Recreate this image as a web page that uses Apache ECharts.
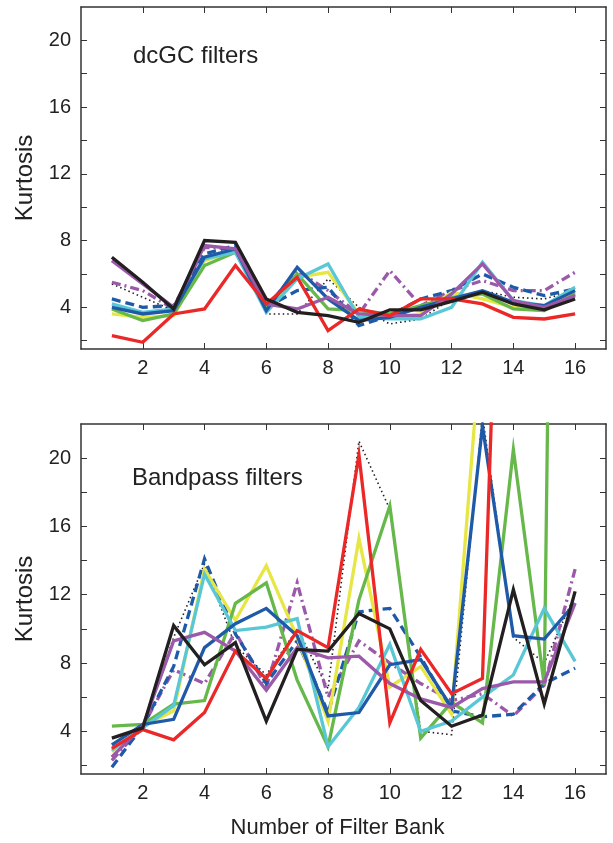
<!DOCTYPE html>
<html>
<head>
<meta charset="utf-8">
<script src="https://cdn.jsdelivr.net/npm/echarts@6/dist/echarts.min.js"></script>
<style>
html, body { margin: 0; padding: 0; background: #fff; }
#main { width: 613px; height: 843px; }
</style>
</head>
<body>
<div id="main"></div>
<script>
// filter bank numbers and axis ticks
var banks = [1, 2, 3, 4, 5, 6, 7, 8, 9, 10, 11, 12, 13, 14, 15, 16];
var xTicks = [2, 4, 6, 8, 10, 12, 14, 16];
var yTicks = [2, 4, 6, 8, 10, 12, 14, 16, 18, 20];
var yLabels = [4, 8, 12, 16, 20];

// dcGC filters (top panel)
var dcRed      = [2.3, 1.9, 3.6, 3.9, 6.5, 4.2, 5.8, 2.6, 3.9, 3.5, 4.5, 4.5, 4.2, 3.4, 3.3, 3.6];
var dcBlack    = [7.0, 5.5, 3.9, 8.0, 7.9, 4.5, 3.7, 3.5, 3.1, 3.85, 3.85, 4.35, 4.9, 4.2, 3.85, 4.5];
var dcPurple   = [6.8, 5.4, 4.0, 7.7, 7.5, 4.2, 3.9, 4.6, 3.6, 3.5, 3.5, 4.8, 6.6, 4.4, 4.0, 4.7];
var dcBlue     = [4.0, 3.6, 3.8, 7.0, 7.5, 3.8, 6.4, 4.5, 3.2, 3.4, 4.0, 4.5, 5.0, 4.3, 4.1, 5.0];
var dcCyan     = [4.2, 3.7, 3.9, 6.9, 7.3, 3.7, 5.7, 6.6, 3.4, 3.3, 3.3, 4.0, 6.7, 4.4, 4.1, 5.2];
var dcGreen    = [3.9, 3.2, 3.6, 6.5, 7.3, 4.0, 6.0, 3.9, 3.8, 3.6, 4.1, 4.6, 4.8, 3.9, 3.8, 4.8];
var dcYellow   = [3.6, 3.4, 3.5, 6.8, 7.4, 4.0, 5.8, 6.1, 3.6, 3.4, 3.6, 4.9, 4.5, 4.0, 3.9, 4.9];
var dcBlueDash = [4.5, 4.0, 4.1, 7.2, 7.7, 4.0, 5.0, 5.2, 2.9, 3.5, 4.5, 5.0, 6.0, 5.2, 4.7, 5.1];
var dcPurpleDD = [5.5, 5.0, 3.9, 7.6, 7.5, 4.0, 6.2, 5.0, 3.6, 6.2, 4.1, 5.0, 5.6, 5.0, 5.0, 6.1];
var dcDotted   = [5.4, 4.6, 3.8, 7.0, 7.4, 3.6, 3.6, 5.7, 4.0, 3.0, 3.3, 4.5, 5.0, 4.6, 4.5, 5.0];

// Bandpass filters (bottom panel)
var bpRed      = [3.0, 4.1, 3.5, 5.1, 8.7, 7.1, 9.9, 8.9, 20.2, 4.5, 8.8, 6.2, 7.1, 60, null, null];
var bpBlack    = [3.6, 4.2, 10.2, 7.9, 9.2, 4.6, 8.8, 8.7, 10.9, 10.0, 5.8, 4.3, 4.95, 12.3, 5.6, 12.2];
var bpPurple   = [2.5, 4.3, 9.3, 9.8, 8.7, 6.4, 8.9, 8.3, 8.4, 6.8, 5.9, 5.4, 6.5, 6.9, 6.9, 11.5];
var bpBlue     = [3.2, 4.4, 4.7, 8.9, 10.3, 11.2, 9.6, 4.9, 5.1, 7.9, 8.2, 5.4, 21.9, 9.6, 9.4, 11.5];
var bpCyan     = [2.9, 4.2, 5.5, 13.2, 9.9, 10.1, 10.6, 3.1, 5.4, 9.1, 4.0, 4.6, 6.0, 7.3, 11.2, 8.1];
var bpGreen    = [4.3, 4.4, 5.6, 5.8, 11.5, 12.7, 7.0, 3.1, 11.7, 17.2, 3.6, 5.7, 4.5, 20.5, 6.7, 150];
var bpYellow   = [2.8, 4.3, 5.2, 13.5, 10.5, 13.7, 9.5, 4.6, 15.3, 6.6, 7.8, 5.0, 28, null, null, null];
var bpBlueDash = [1.9, 4.3, 7.8, 14.1, 9.7, 6.8, 9.3, 5.1, 11.0, 11.2, 8.35, 5.2, 4.85, 5.0, 6.8, 7.7];
var bpPurpleDD = [2.3, 4.3, 7.6, 6.8, 9.8, 6.6, 12.7, 6.0, 9.3, 8.0, 6.8, 5.8, 6.2, 4.9, 6.7, 13.5];
var bpDotted   = [2.5, 4.3, 9.5, 13.8, 9.0, 7.3, 10.0, 6.5, 21.0, 17.0, 4.0, 3.8, 22.5, 9.5, 8.0, 12.0];

var font = 'Liberation Sans, Arial, Helvetica, sans-serif';
var axisColor = '#333';

// line styles, drawn in this order
var styles = [
    { key: 'Dotted',   color: '#231f20', type: [1.5, 3], width: 1.6 },
    { key: 'PurpleDD', color: '#9b59a9', type: [9, 4, 2, 4], width: 3.3 },
    { key: 'BlueDash', color: '#1f5aa8', type: [9, 5], width: 3.3 },
    { key: 'Yellow',   color: '#e6e645', type: 'solid', width: 3.3 },
    { key: 'Green',    color: '#67b84a', type: 'solid', width: 3.3 },
    { key: 'Cyan',     color: '#5ac7d6', type: 'solid', width: 3.3 },
    { key: 'Blue',     color: '#1f5aa8', type: 'solid', width: 3.3 },
    { key: 'Purple',   color: '#9b59a9', type: 'solid', width: 3.3 },
    { key: 'Red',      color: '#ec2727', type: 'solid', width: 3.3 },
    { key: 'Black',    color: '#231f20', type: 'solid', width: 3.3 }
];
var panels = {
    dc: { Red: dcRed, Black: dcBlack, Purple: dcPurple, Blue: dcBlue, Cyan: dcCyan, Green: dcGreen,
          Yellow: dcYellow, BlueDash: dcBlueDash, PurpleDD: dcPurpleDD, Dotted: dcDotted },
    bp: { Red: bpRed, Black: bpBlack, Purple: bpPurple, Blue: bpBlue, Cyan: bpCyan, Green: bpGreen,
          Yellow: bpYellow, BlueDash: bpBlueDash, PurpleDD: bpPurpleDD, Dotted: bpDotted }
};

function pairs(vals) {
    var out = [];
    for (var i = 0; i < banks.length; i++) out.push([banks[i], vals[i]]);
    return out;
}

var series = [];
['dc', 'bp'].forEach(function (p, g) {
    styles.forEach(function (s) {
        series.push({
            type: 'line',
            xAxisIndex: g * 2,
            yAxisIndex: g * 2,
            data: pairs(panels[p][s.key]),
            showSymbol: false,
            symbol: 'none',
            clip: true,
            connectNulls: false,
            lineStyle: { color: s.color, width: s.width, type: s.type, cap: 'butt', join: 'miter' },
            silent: true,
            animation: false
        });
    });
});

function xAxis(grid, pos, labels, name) {
    return {
        type: 'value', gridIndex: grid, position: pos, min: 0, max: 17,
        name: name || '', nameLocation: 'middle', nameGap: 43,
        nameTextStyle: { fontFamily: font, fontSize: 22, color: '#222', padding: [0, 12, 0, 0] },
        axisLine: { show: true, onZero: false, lineStyle: { color: axisColor, width: 1.5 } },
        axisTick: { show: true, inside: true, length: 6, customValues: xTicks, lineStyle: { color: axisColor } },
        axisLabel: { show: labels, customValues: xTicks, fontFamily: font, fontSize: 20, color: '#222', margin: 9 },
        splitLine: { show: false }
    };
}
function yAxis(grid, pos, labels) {
    return {
        type: 'value', gridIndex: grid, position: pos, min: 1.5, max: 22,
        name: labels ? 'Kurtosis' : '', nameLocation: 'middle', nameGap: 41, nameRotate: 90,
        nameTextStyle: { fontFamily: font, fontSize: 24, color: '#222' },
        axisLine: { show: true, onZero: false, lineStyle: { color: axisColor, width: 1.5 } },
        axisTick: { show: true, inside: true, length: 6, customValues: yTicks, lineStyle: { color: axisColor } },
        axisLabel: { show: labels, customValues: yLabels, fontFamily: font, fontSize: 20, color: '#222', margin: 10 },
        splitLine: { show: false }
    };
}

var myChart = echarts.init(document.getElementById('main'), null, { renderer: 'canvas' });
var option = {
    backgroundColor: '#fff',
    animation: false,
    title: [
        { text: 'dcGC filters', left: 128, top: 39, textStyle: { fontFamily: font, fontSize: 24, fontWeight: 'normal', color: '#222' } },
        { text: 'Bandpass filters', left: 127, top: 461, textStyle: { fontFamily: font, fontSize: 24, fontWeight: 'normal', color: '#222' } }
    ],
    grid: [
        { left: 81, right: 7, top: 7, height: 342 },
        { left: 81, right: 7, top: 424, height: 350 }
    ],
    xAxis: [
        xAxis(0, 'bottom', true), xAxis(0, 'top', false),
        xAxis(1, 'bottom', true, 'Number of Filter Bank'), xAxis(1, 'top', false)
    ],
    yAxis: [
        yAxis(0, 'left', true), yAxis(0, 'right', false),
        yAxis(1, 'left', true), yAxis(1, 'right', false)
    ],
    series: series
};
myChart.setOption(option);
</script>
</body>
</html>
